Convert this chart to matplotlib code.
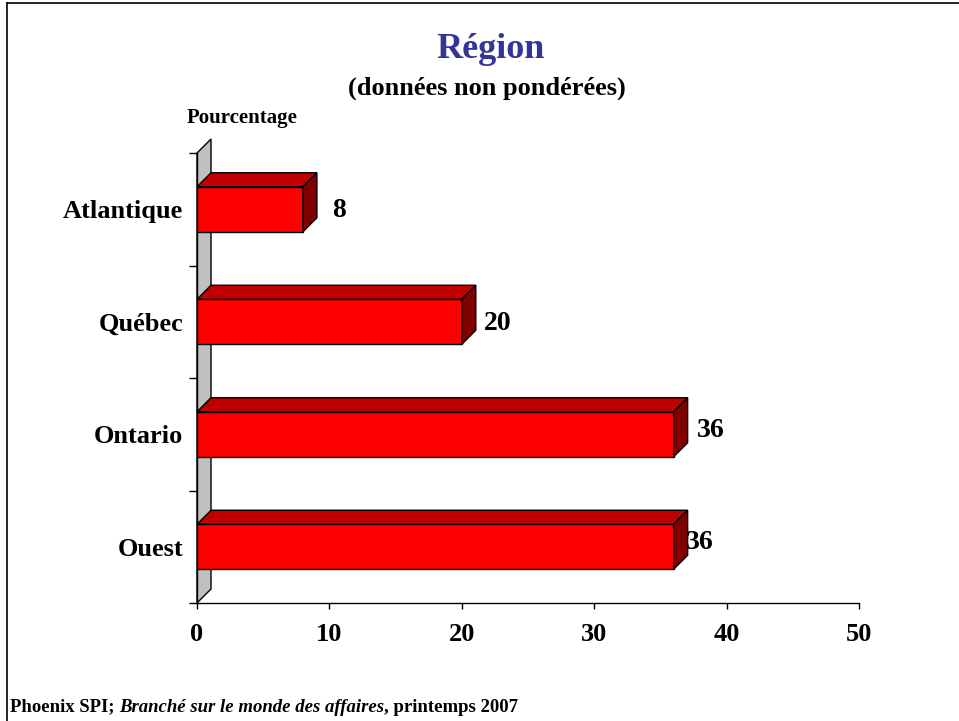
import matplotlib
matplotlib.use("Agg")
from matplotlib import pyplot as plt
from matplotlib.patches import Polygon
from matplotlib.lines import Line2D

regions = ["Atlantique", "Québec", "Ontario", "Ouest"]
values = [8, 20, 36, 36]
xticks = [0, 10, 20, 30, 40, 50]

plt.rcParams['font.family'] = ['Liberation Serif', 'DejaVu Serif']
plt.rcParams['font.weight'] = 'bold'

W, H = 959, 721
fig = plt.figure(figsize=(W / 100, H / 100), dpi=100)
ax = fig.add_axes([197 / W, 1 - 603 / H, 662 / W, 450 / H])

ax.set_xlim(0, 50)
ax.set_ylim(3.5, -0.5)

# 3D depth, in pixels, converted to data units
depth = 14
dx = depth / (662 / 50)
dy = depth / (450 / 4)
bh = 0.4

front = '#ff0000'
top = '#c00000'
side = '#800000'

# grey back wall
wall = Polygon([(0, 3.5), (0, -0.5), (dx, -0.5 - dy), (dx, 3.5 - dy)],
               closed=True, facecolor='#c0c0c0', edgecolor='black',
               linewidth=1, clip_on=False, zorder=1)
ax.add_patch(wall)

ypos = list(range(len(regions)))
ax.barh(ypos, values, height=bh, left=0, color=front, edgecolor='black',
        linewidth=1, zorder=3)
for y, v in zip(ypos, values):
    y0 = y - bh / 2
    y1 = y + bh / 2
    ax.add_patch(Polygon([(0, y0), (v, y0), (v + dx, y0 - dy), (dx, y0 - dy)],
                         closed=True, facecolor=top, edgecolor='black',
                         linewidth=1, zorder=3, clip_on=False))
    ax.add_patch(Polygon([(v, y0), (v, y1), (v + dx, y1 - dy), (v + dx, y0 - dy)],
                         closed=True, facecolor=side, edgecolor='black',
                         linewidth=1, zorder=3, clip_on=False))

# value labels (offsets in points as in the original slide)
label_off = [11, 6, 6.5, -1.5]
label_dy = [-1, -1, 3, 3]
for y, v, off, ody in zip(ypos, values, label_off, label_dy):
    ax.annotate(str(v), (v + dx, y), xytext=(off, ody), textcoords='offset points',
                ha='left', va='center', fontsize=20, fontweight='bold')

for s in ['top', 'right']:
    ax.spines[s].set_visible(False)
ax.spines['left'].set_linewidth(1)
ax.spines['bottom'].set_linewidth(1)

ax.set_xticks(xticks)
ax.set_xticklabels([str(t) for t in xticks], fontsize=19, fontweight='bold')
ax.tick_params(axis='x', direction='out', length=4.3, width=1, pad=10)

ax.set_yticks(ypos)
ax.set_yticklabels(regions, fontsize=19, fontweight='bold')
ax.set_yticks([i - 0.5 for i in range(len(regions) + 1)], minor=True)
ax.tick_params(axis='y', which='major', length=0, pad=10)
ax.tick_params(axis='y', which='minor', length=5.8, width=1)

fig.text(491 / W, 1 - 50 / H, "Région", ha='center', va='center',
         fontsize=26, fontweight='bold', color='#333399')
fig.text(487 / W, 1 - 88 / H, "(données non pondérées)", ha='center', va='center',
         fontsize=19, fontweight='bold')
fig.text(187 / W, 1 - 118 / H, "Pourcentage", ha='left', va='center',
         fontsize=15, fontweight='bold')

# footer with italic title
fy = 1 - 707 / H
fs = 13.5
t1 = fig.text(10 / W, fy, "Phoenix SPI;", ha='left', va='center',
              fontsize=fs, fontweight='bold')
fig.canvas.draw()
r = fig.canvas.get_renderer()
bb = t1.get_window_extent(r)
t2 = fig.text((bb.x1 + 5) / W, fy, "Branché sur le monde des affaires", ha='left',
              va='center', fontsize=fs, fontweight='bold', style='italic')
bb2 = t2.get_window_extent(r)
fig.text(bb2.x1 / W, fy, ", printemps 2007", ha='left', va='center',
         fontsize=fs, fontweight='bold')

# slide border (top and left only)
fig.add_artist(Line2D([7 / W, 1], [1 - 3 / H, 1 - 3 / H], color='black', linewidth=1.2))
fig.add_artist(Line2D([7 / W, 7 / W], [0, 1 - 3 / H], color='black', linewidth=1.2))

fig.savefig('out.png', dpi=100, facecolor='white')
